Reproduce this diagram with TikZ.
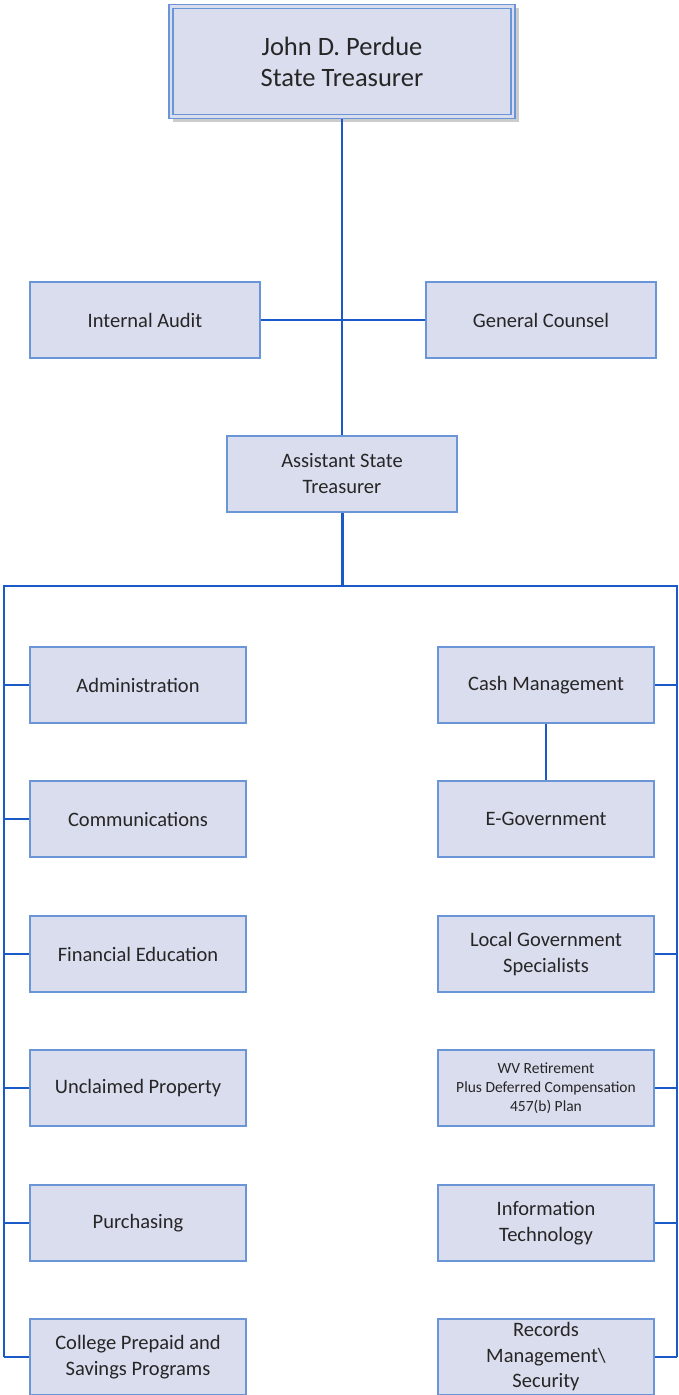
\documentclass[tikz,border=0pt]{standalone}
\usepackage{fontspec}
\setmainfont{Carlito}
\definecolor{boxfill}{HTML}{DADDEE}
\definecolor{boxline}{HTML}{6A95D6}
\definecolor{conn}{HTML}{1A5AC8}
\definecolor{txt}{HTML}{262626}
\begin{document}
\begin{tikzpicture}[x=1pt,y=-1pt,
  unit/.style={draw=boxline,fill=boxfill,line width=1.4pt,text=txt,align=center,
    minimum width=216pt,minimum height=76pt,inner sep=0pt,font=\fontsize{20.5}{26}\selectfont},
  wide/.style={unit,minimum width=230pt},
  link/.style={draw=conn,line width=2.5pt}]
\useasboundingbox (0,0) rectangle (678,1395);
\begin{scope}
\clip (0,0) rectangle (678,1395);
% top box
\fill[black!20] (173,8) rectangle (519,122);
\node[draw=boxline,fill=boxfill,line width=1.4pt,minimum width=346pt,minimum height=114pt,inner sep=0pt] (top) at (342,61.5) {};
\node[draw=boxline,line width=1.4pt,minimum width=338pt,minimum height=106pt,inner sep=0pt,text=txt,align=center,font=\fontsize{26.5}{31}\selectfont] (topin) at (342,61.5) {John D. Perdue\\State Treasurer};
\node[wide] (audit) at (145,320) {Internal Audit};
\node[wide] (counsel) at (541,320) {General Counsel};
\node[wide] (ast) at (342,474) {Assistant State\\Treasurer};
\coordinate (bus) at (342,586);
\coordinate (bl) at (4,586);
\coordinate (br) at (677,586);
\coordinate (bl2) at (4,1357);
\coordinate (br2) at (677,1357);
% left
\node[unit] (adm) at (138,685) {Administration};
\node[unit] (com) at (138,819) {Communications};
\node[unit] (fin) at (138,954) {Financial Education};
\node[unit] (unc) at (138,1088) {Unclaimed Property};
\node[unit] (pur) at (138,1223) {Purchasing};
\node[unit] (col) at (138,1357) {College Prepaid and\\Savings Programs};
% right
\node[unit] (cash) at (546,685) {Cash Management};
\node[unit] (egov) at (546,819) {E-Government};
\node[unit] (loc) at (546,954) {Local Government\\Specialists};
\node[unit,font=\fontsize{15.5}{19}\selectfont] (wv) at (546,1088) {WV Retirement\\Plus Deferred Compensation\\457(b) Plan};
\node[unit] (it) at (546,1223) {Information\\Technology};
\node[unit,font=\fontsize{20.5}{25.5}\selectfont] (rec) at (546,1357) {Records\\Management\textbackslash\\Security};
% connectors
\draw[link] (top.south) -- (ast.north);
\draw[link] (audit.east) -- (counsel.west);
\draw[link,line width=3pt] (ast.south) -- (bus);
\draw[link] (bl2) -- (bl) -- (br) -- (br2);
\foreach \n in {adm,com,fin,unc,pur,col}{\draw[link] (\n.west) -- (\n.west -| bl);}
\foreach \n in {cash,loc,wv,it,rec}{\draw[link] (\n.east) -- (\n.east -| br);}
\draw[link] (cash.south) -- (egov.north);
\end{scope}
\end{tikzpicture}
\end{document}
